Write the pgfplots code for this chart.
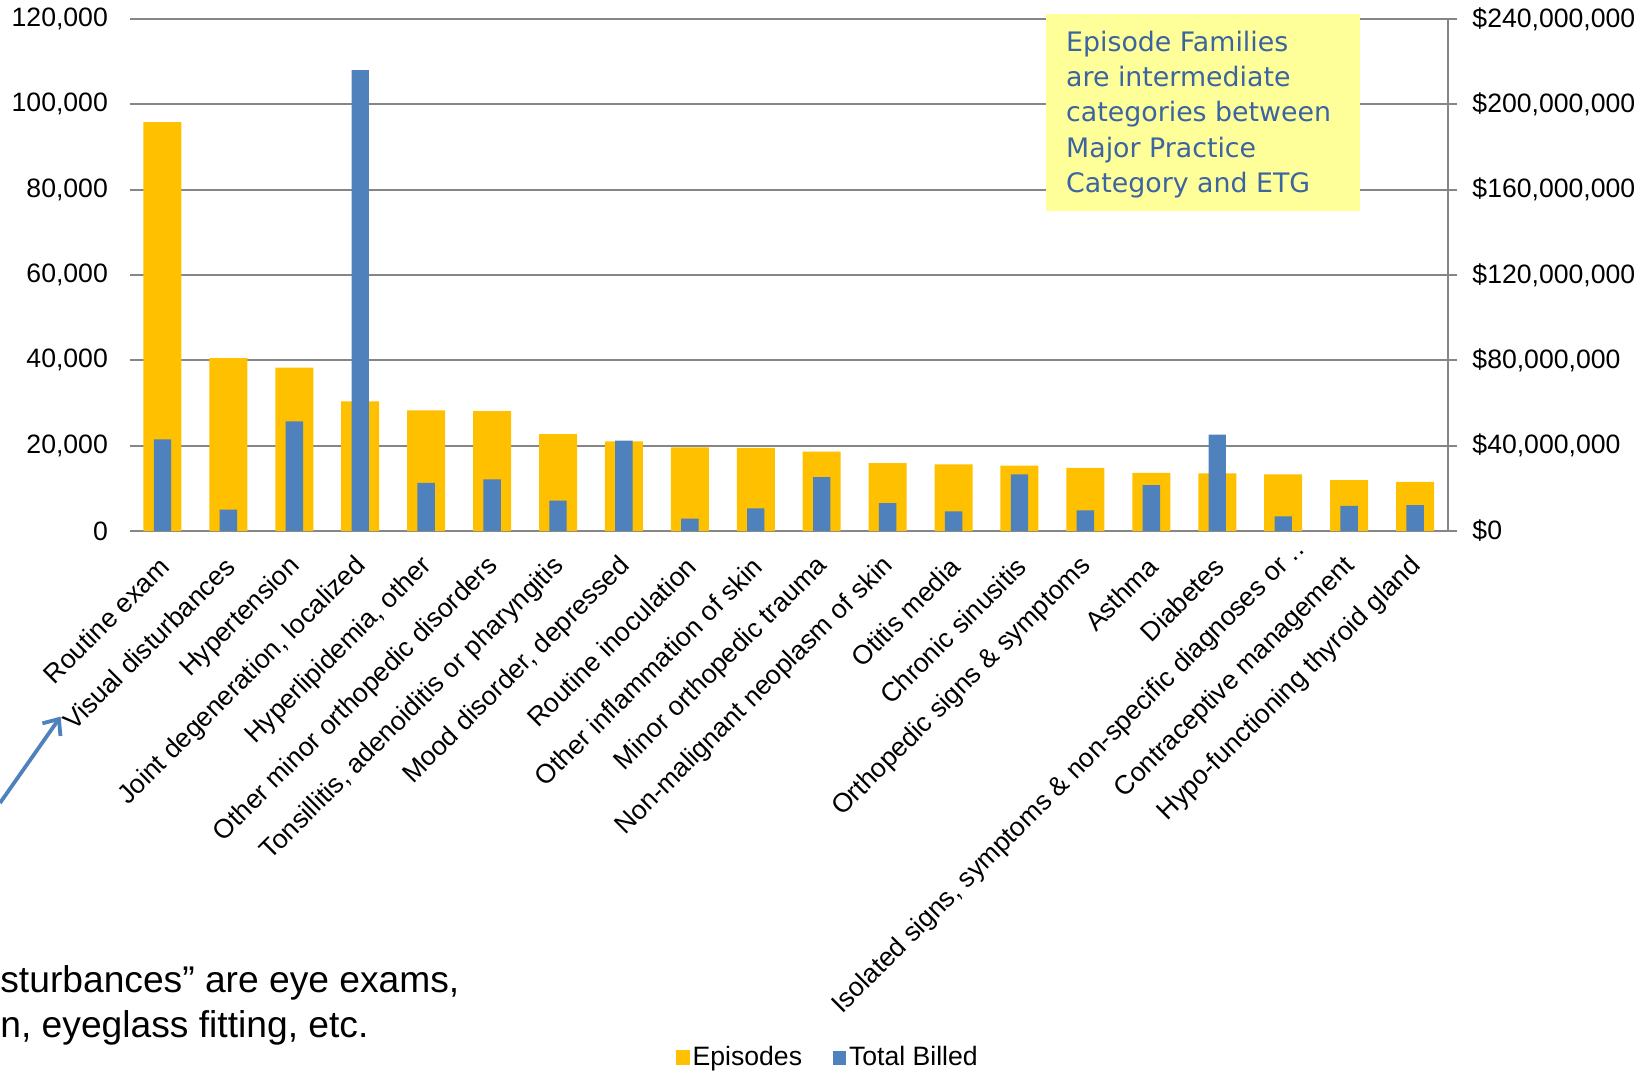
\documentclass[border=0pt]{standalone}
\usepackage{pgfplots}
\pgfplotsset{compat=1.18}
\usepackage{fontspec}
\setmainfont{Liberation Sans}
\newfontfamily\boxfont{DejaVu Sans}
\usetikzlibrary{arrows.meta}
\definecolor{cOrange}{HTML}{FFC000}
\definecolor{cBlue}{HTML}{4F81BD}
\definecolor{cGrid}{HTML}{868686}
\definecolor{cNote}{HTML}{FFFF99}
\definecolor{cNoteText}{HTML}{3B64A0}
\newcommand{\tfont}{\fontsize{13.3}{16}\selectfont}
\begin{document}
\begin{tikzpicture}
\useasboundingbox (0,0) rectangle (825pt,535.5pt);
\pgfplotsset{
  myaxis/.style={
    scale only axis, width=659.25pt, height=256pt,
    at={(64.75pt,270pt)}, anchor=south west,
    xmin=-0.5, xmax=19.5,
    scaled y ticks=false,
    /pgf/number format/assume math mode=true,
    ticklabel style={font=\tfont},
  }
}
\begin{axis}[
  myaxis,
  ymin=0, ymax=120000,
  axis x line*=bottom, axis y line*=left,
  x axis line style={draw=cGrid, line width=0.85pt, -},
  y axis line style={draw=none},
  ytick={0,20000,40000,60000,80000,100000,120000},
  yticklabels={{0},{20,000},{40,000},{60,000},{80,000},{100,000},{120,000}},
  yticklabel style={xshift=-7.3pt},
  ymajorgrids, grid style={draw=cGrid, line width=0.85pt},
  major tick length=0pt,
  xtick={0,...,19},
  xticklabels={{Routine exam},{Visual disturbances},{Hypertension},{Joint degeneration, localized},{Hyperlipidemia, other},{Other minor orthopedic disorders},{Tonsillitis, adenoiditis or pharyngitis},{Mood disorder, depressed},{Routine inoculation},{Other inflammation of skin},{Minor orthopedic trauma},{Non-malignant neoplasm of skin},{Otitis media},{Chronic sinusitis},{Orthopedic signs \& symptoms},{Asthma},{Diabetes},{Isolated signs, symptoms \& non-specific diagnoses or\rlap{\ ..}},{Contraceptive management},{Hypo-functioning thyroid gland}},
  xticklabel style={inner sep=0pt, xshift=1pt, yshift=-15.5pt, rotate=45, anchor=east},
  ybar, bar width=19pt, bar shift=0pt,
]
\addplot[draw=none, fill=cOrange] coordinates {
(0,95800) (1,40500) (2,38300) (3,30400) (4,28300) (5,28100) (6,22700) (7,21000) (8,19600) (9,19500)
(10,18600) (11,15900) (12,15600) (13,15300) (14,14800) (15,13600) (16,13500) (17,13300) (18,11900) (19,11500)};
\end{axis}
\begin{axis}[
  myaxis,
  ymin=0, ymax=240000000,
  axis x line=none, axis y line*=right,
  y axis line style={draw=cGrid, line width=0.85pt, -},
  ytick={0,40000000,80000000,120000000,160000000,200000000,240000000},
  yticklabels={{\$0},{\$40,000,000},{\$80,000,000},{\$120,000,000},{\$160,000,000},{\$200,000,000},{\$240,000,000}},
  ytick style={draw=cGrid, line width=0.85pt},
  tick align=outside, major tick length=4.5pt,
  yticklabel style={xshift=4.2pt},
  ybar, bar width=8.7pt, bar shift=0pt,
  legend columns=2,
  legend style={at={(0.53,-1.029)}, anchor=center, draw=none, fill=none, font=\tfont,
    /tikz/every even column/.append style={column sep=14pt},
    nodes={inner sep=1.5pt}},
]
\addlegendimage{legend image code/.code={\fill[cOrange] (0pt,-3.5pt) rectangle (6.5pt,3.5pt);}}
\addlegendentry{Episodes}
\addplot[draw=none, fill=cBlue, legend image code/.code={\fill[cBlue] (0pt,-3.5pt) rectangle (6.5pt,3.5pt);}] coordinates {
(0,42900000) (1,10000000) (2,51400000) (3,216000000) (4,22600000) (5,24200000) (6,14200000) (7,42400000) (8,5800000) (9,10600000)
(10,25200000) (11,13100000) (12,9200000) (13,26500000) (14,9700000) (15,21500000) (16,45200000) (17,6800000) (18,11800000) (19,12100000)};
\addlegendentry{Total Billed}
\end{axis}
% note box
\fill[cNote] (523pt,429.8pt) rectangle (680pt,528.3pt);
\begin{scope}[every node/.style={anchor=base west, inner sep=0pt, text=cNoteText, font=\boxfont\fontsize{13.4}{17}\selectfont}]
\node at (532.9pt,509.6pt) {Episode Families};
\node at (532.9pt,492.05pt) {are intermediate};
\node at (532.9pt,474.5pt) {categories between};
\node at (532.9pt,456.95pt) {Major Practice};
\node at (532.9pt,439.4pt) {Category and ETG};
\end{scope}
% arrow
\draw[cBlue, line width=1.9pt, -{Straight Barb[length=6.5pt,width=11pt]}] (0pt,134pt) -- (30.3pt,177.2pt);
% bottom note (cropped at the left edge in the reference)
\node[anchor=base west, inner sep=0pt, font=\fontsize{18.6}{22.3}\selectfont] at (0pt,39pt) {sturbances” are eye exams,};
\node[anchor=base west, inner sep=0pt, font=\fontsize{18.6}{22.3}\selectfont] at (0pt,16.5pt) {n, eyeglass fitting, etc.};
\end{tikzpicture}
\end{document}
